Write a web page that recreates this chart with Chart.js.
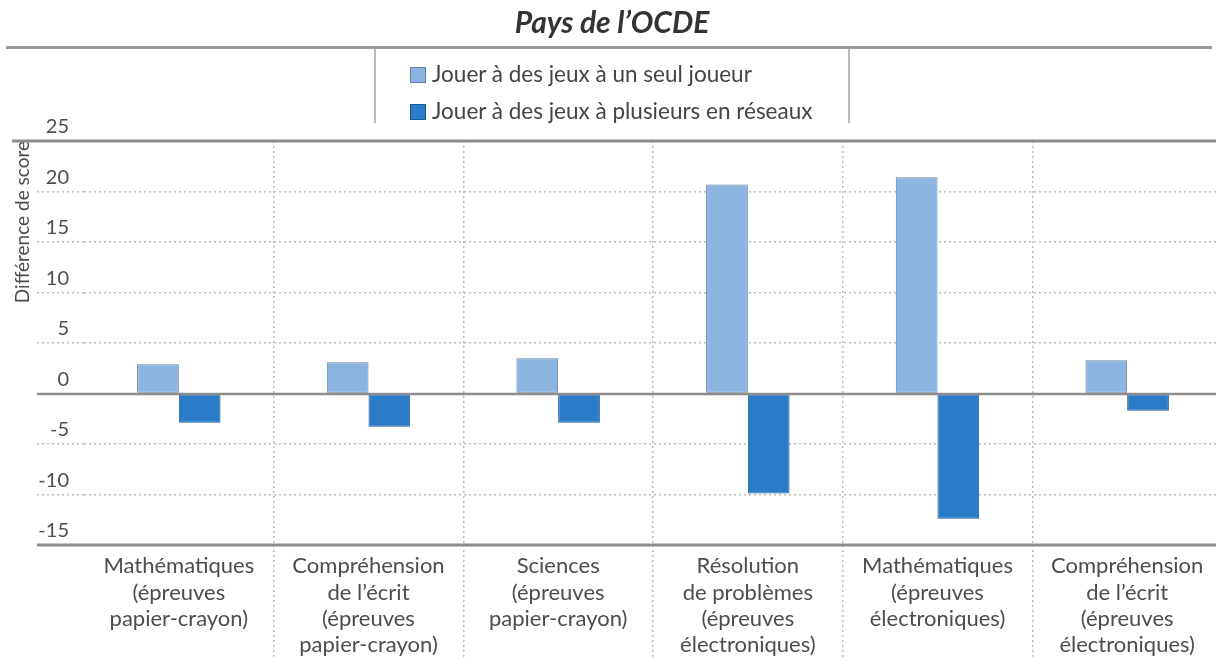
<!DOCTYPE html>
<html lang="fr">
<head>
<meta charset="utf-8">
<title>Pays de l’OCDE</title>
<script src="https://cdn.jsdelivr.net/npm/chart.js@4.4.1/dist/chart.umd.min.js"></script>
<style>
  html, body { margin: 0; padding: 0; background: #fff; overflow: hidden; }
  body { width: 1216px; height: 660px; position: relative; font-family: Lato, "Open Sans", sans-serif; color: #444; }
  #chart-wrap { position: absolute; left: 0; top: 0; width: 1222px; height: 660px; }
  #title { position: absolute; top: 3px; left: 412px; width: 400px; text-align: center; font-size: 30px; font-style: italic; font-weight: 700; color: #333; }
  #rule { position: absolute; top: 46px; left: 6px; width: 1206px; border-top: 3px solid #9a9a9a; }
  #legend { position: absolute; top: 49px; left: 374px; width: 472px; height: 74px; border-left: 2px solid #b8b8b8; border-right: 2px solid #b8b8b8; }
  .item { position: absolute; left: 34px; font-size: 22.5px; color: #444; white-space: nowrap; line-height: 26px; }
  .swatch { display: inline-block; width: 16px; height: 16px; margin-right: 6px; vertical-align: -1px; border: 1px solid; box-sizing: border-box; }
</style>
</head>
<body>
<div id="chart-wrap"><canvas id="chart" width="1222" height="660"></canvas></div>
<div id="title">Pays de l’OCDE</div>
<div id="rule"></div>
<div id="legend"></div>
<script>
const categories = [
  ["Mathématiques", "(épreuves", "papier-crayon)"],
  ["Compréhension", "de l’écrit", "(épreuves", "papier-crayon)"],
  ["Sciences", "(épreuves", "papier-crayon)"],
  ["Résolution", "de problèmes", "(épreuves", "électroniques)"],
  ["Mathématiques", "(épreuves", "électroniques)"],
  ["Compréhension", "de l’écrit", "(épreuves", "électroniques)"],
];
const seriesNames = ["Jouer à des jeux à un seul joueur", "Jouer à des jeux à plusieurs en réseaux"];
const singlePlayer = [2.9, 3.1, 3.5, 20.7, 21.4, 3.3];
const multiPlayer = [-2.9, -3.3, -2.9, -9.9, -12.4, -1.7];
const yMin = -15;
const yMax = 25;
const yStep = 5;

const FONT = "Lato, 'Open Sans', sans-serif";
const TEXT = "#4d4d4d";
const GRID = "#bcbcbc";
const fills = ["#8cb4e1", "#2a7bc8"];
const borders = ["#60809f", "#1d5a92"];

// legend (html, built from the series arrays)
const legendEl = document.getElementById("legend");
legendEl.innerHTML = seriesNames
  .map((name, i) =>
    `<div class="item" style="top:${12 + i * 37}px"><span class="swatch" style="background:${fills[i]};border-color:${borders[i]}"></span>${name}</div>`
  )
  .join("");

// solid lines at top, zero and bottom of the value axis
const solidLines = {
  id: "solidLines",
  afterDatasetsDraw(chart) {
    const { ctx, chartArea } = chart;
    const y = chart.scales.y;
    const lines = [
      { v: yMax, from: 12, w: 3 },
      { v: 0, from: 37, w: 2.5 },
      { v: yMin, from: 37, w: 3 },
    ];
    ctx.save();
    ctx.strokeStyle = "#8c8c8c";
    lines.forEach((l) => {
      const py = Math.round(y.getPixelForValue(l.v));
      ctx.lineWidth = l.w;
      ctx.beginPath();
      ctx.moveTo(l.from, py);
      ctx.lineTo(chartArea.right, py);
      ctx.stroke();
    });
    ctx.restore();
  },
};

const xGridColor = (c) => (c.index === 0 ? "rgba(0,0,0,0)" : GRID);

new Chart(document.getElementById("chart"), {
  type: "bar",
  data: {
    labels: categories,
    datasets: [
      {
        label: seriesNames[0],
        data: singlePlayer,
        backgroundColor: fills[0],
        borderColor: borders[0],
        borderWidth: 1,
        borderSkipped: false,
        categoryPercentage: 0.44,
        barPercentage: 1,
      },
      {
        label: seriesNames[1],
        data: multiPlayer,
        backgroundColor: fills[1],
        borderColor: borders[1],
        borderWidth: 1,
        borderSkipped: false,
        categoryPercentage: 0.44,
        barPercentage: 1,
      },
    ],
  },
  options: {
    responsive: false,
    animation: false,
    devicePixelRatio: 1,
    layout: { padding: { top: 141, left: 9, right: 0, bottom: 0 } },
    plugins: { legend: { display: false }, tooltip: { enabled: false } },
    scales: {
      x: {
        afterFit: (s) => { s.height = 115; },
        grid: {
          offset: true,
          color: xGridColor,
          tickColor: xGridColor,
          lineWidth: 1.5,
          tickWidth: 1.5,
          tickLength: 115,
          tickBorderDash: [2, 3],
        },
        border: { display: false, dash: [2, 3] },
        ticks: {
          padding: -107,
          autoSkip: false,
          maxRotation: 0,
          color: TEXT,
          font: { family: FONT, size: 22, lineHeight: 1.2 },
        },
      },
      y: {
        min: yMin,
        max: yMax,
        afterFit: (s) => { s.width = 75; },
        grid: {
          color: GRID,
          tickColor: GRID,
          lineWidth: 1.5,
          tickWidth: 1.5,
          tickLength: 47,
          tickBorderDash: [2, 3],
        },
        border: { display: false, dash: [2, 3] },
        ticks: {
          stepSize: yStep,
          padding: -32,
          labelOffset: -14,
          color: TEXT,
          font: { family: FONT, size: 20 },
        },
        title: {
          display: true,
          text: "Différence de score",
          align: "end",
          color: TEXT,
          padding: { top: 2, bottom: 0 },
          font: { family: FONT, size: 19, lineHeight: 1.2 },
        },
      },
    },
  },
  plugins: [solidLines],
});
</script>
</body>
</html>
